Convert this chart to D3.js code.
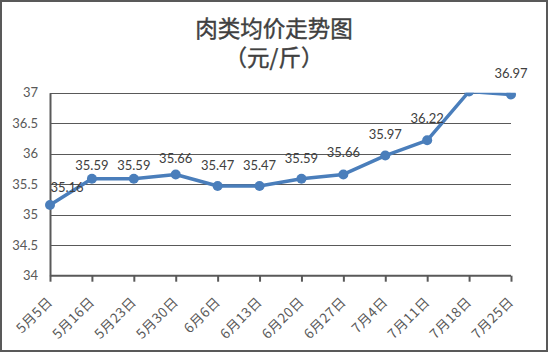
<!DOCTYPE html>
<html><head><meta charset="utf-8">
<script src="https://cdn.jsdelivr.net/npm/d3@7"></script>
<style>body{margin:0;background:#fff}svg{display:block}</style>
</head><body>
<script>
const categories = ["5月5日","5月16日","5月23日","5月30日","6月6日","6月13日","6月20日","6月27日","7月4日","7月11日","7月18日","7月25日"];
const values = [35.16,35.59,35.59,35.66,35.47,35.47,35.59,35.66,35.97,36.22,37.02,36.97];
const yTicks = [34,34.5,35,35.5,36,36.5,37];
const titleLines = ["肉类均价走势图","（元/斤）"];

// label layout (pixels above each point, and horizontal nudge)
const labelRise = [13,9,9,11,16,16,16,17,17,17,17,17];
const labelNudge = [17,0,0,0,0,0,0,0,0,0,0,0];

const W=548,H=352;
const svg=d3.select("body").append("svg").attr("width",W).attr("height",H);
const font="Lato, 'Noto Sans CJK SC', sans-serif";
const cjk="'Noto Sans CJK SC', sans-serif";
svg.append("rect").attr("x",1).attr("y",1).attr("width",W-2).attr("height",H-2)
  .attr("fill","#fff").attr("stroke","#595959").attr("stroke-width",2);

const x=d3.scalePoint().domain(categories).range([50,511]);
const y=d3.scaleLinear().domain([34,37]).range([275.7,92.7]);

// title
[[37,titleLines[0]],[66,titleLines[1]]].forEach(([ty,t])=>{
  svg.append("text").attr("x",274).attr("y",ty).attr("text-anchor","middle")
    .attr("font-family",cjk).attr("font-size",22.5)
    .attr("fill","#404040").attr("stroke","#404040").attr("stroke-width",0.4).text(t);
});

// gridlines
svg.append("g").selectAll("line").data(yTicks.filter(d=>d>34)).join("line")
  .attr("x1",50).attr("x2",511).attr("y1",d=>Math.round(y(d))+0.5).attr("y2",d=>Math.round(y(d))+0.5)
  .attr("stroke","#595959").attr("stroke-width",1);

// y axis
const ya=svg.append("g").attr("transform","translate(50,0)")
  .call(d3.axisLeft(y).tickValues(yTicks).tickSize(0).tickPadding(12).tickFormat(d3.format("")));
ya.select(".domain").attr("stroke","#595959").attr("stroke-width",2);
ya.selectAll("text").attr("font-family",font).attr("font-size",13).attr("fill","#595959");

// x axis
const xa=svg.append("g").attr("transform","translate(0,"+y(34)+")")
  .call(d3.axisBottom(x).tickSize(6).tickSizeOuter(0));
xa.select(".domain").attr("stroke","#595959").attr("stroke-width",2).attr("d","M50,0H511");
xa.selectAll(".tick line").attr("stroke","#595959").attr("stroke-width",2);
xa.selectAll("text").attr("font-family",cjk).attr("font-size",13.5).attr("letter-spacing",0.6).attr("fill","#595959")
  .attr("text-anchor","end").attr("x",0).attr("y",0).attr("dy",0)
  .attr("transform","translate(3,27) rotate(-45)");

// clip to plot area
svg.append("clipPath").attr("id","plot").append("rect")
  .attr("x",40).attr("y",y(37)).attr("width",480).attr("height",y(34)-y(37)+10);
const g=svg.append("g").attr("clip-path","url(#plot)");
const line=d3.line().x((d,i)=>x(categories[i])).y(d=>y(d));
g.append("path").datum(values).attr("d",line).attr("fill","none")
  .attr("stroke","#4a7ebb").attr("stroke-width",3.5).attr("stroke-linejoin","round");
g.selectAll("circle").data(values).join("circle")
  .attr("cx",(d,i)=>x(categories[i])).attr("cy",d=>y(d)).attr("r",5).attr("fill","#4a7ebb");

// data labels
const lab=svg.append("g");
values.forEach((d,i)=>{
  if(d>37) return;
  lab.append("text").attr("x",x(categories[i])+labelNudge[i]).attr("y",y(d)-labelRise[i])
    .attr("text-anchor","middle").attr("font-family",font).attr("font-size",13)
    .attr("fill","#404040").text(d.toFixed(2));
});
</script>
</body></html>
